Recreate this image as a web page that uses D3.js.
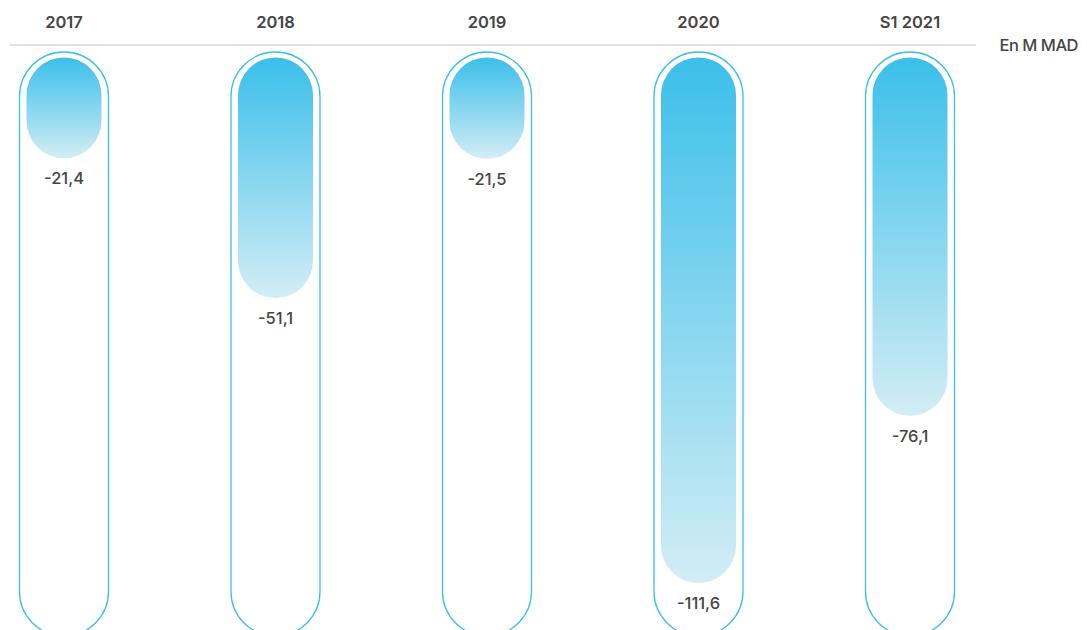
<!DOCTYPE html>
<html>
<head>
<meta charset="utf-8">
<script src="https://cdn.jsdelivr.net/npm/d3@7"></script>
<style>
  body { margin: 0; background: #fff; }
  svg { display: block; font-family: Inter, "Noto Sans", sans-serif; }
</style>
</head>
<body>
<svg id="chart" width="1087" height="630"></svg>
<script>
var categories = ["2017", "2018", "2019", "2020", "S1 2021"];
var values = [-21.4, -51.1, -21.5, -111.6, -76.1];
var labels = ["-21,4", "-51,1", "-21,5", "-111,6", "-76,1"];
var unitLabel = "En M MAD";

var svg = d3.select("#chart");

var x = d3.scalePoint().domain(categories).range([64, 910]);
var y = d3.scaleLinear().domain([0, 111.6]).range([57.5, 583]);

var outerW = 89, innerW = 75;

var defs = svg.append("defs");
var grad = defs.append("linearGradient")
  .attr("id", "barGrad")
  .attr("x1", 0).attr("y1", 0).attr("x2", 0).attr("y2", 1);
grad.append("stop").attr("offset", "0%").attr("stop-color", "#3bbfea");
grad.append("stop").attr("offset", "100%").attr("stop-color", "#d3edf5");

// header line
svg.append("line")
  .attr("x1", 10).attr("x2", 976)
  .attr("y1", 45).attr("y2", 45)
  .attr("stroke", "#d9d9d9")
  .attr("stroke-width", 1.5);

svg.append("text")
  .attr("x", 1078).attr("y", 45)
  .attr("dy", "0.35em")
  .attr("text-anchor", "end")
  .attr("fill", "#454545")
  .style("font-size", "16.5px")
  .style("font-weight", 500)
  .style("letter-spacing", "-0.5px")
  .text(unitLabel);

svg.selectAll(".cat")
  .data(categories)
  .enter().append("text")
  .attr("class", "cat")
  .attr("x", function(d) { return x(d); })
  .attr("y", 22)
  .attr("dy", "0.35em")
  .attr("text-anchor", "middle")
  .attr("fill", "#454545")
  .style("font-size", "16.5px")
  .style("font-weight", 600)
  .text(function(d) { return d; });

// outer capsules
svg.selectAll(".outer")
  .data(categories)
  .enter().append("rect")
  .attr("class", "outer")
  .attr("x", function(d) { return x(d) - outerW / 2; })
  .attr("y", 52)
  .attr("width", outerW)
  .attr("height", 584)
  .attr("rx", outerW / 2)
  .attr("fill", "#fff")
  .attr("stroke", "#3bbfea")
  .attr("stroke-width", 1.3);

// bars
svg.selectAll(".bar")
  .data(values)
  .enter().append("rect")
  .attr("class", "bar")
  .attr("x", function(d, i) { return x(categories[i]) - innerW / 2; })
  .attr("y", y(0))
  .attr("width", innerW)
  .attr("height", function(d) { return y(-d) - y(0); })
  .attr("rx", innerW / 2)
  .attr("fill", "url(#barGrad)");

svg.selectAll(".val")
  .data(values)
  .enter().append("text")
  .attr("class", "val")
  .attr("x", function(d, i) { return x(categories[i]); })
  .attr("y", function(d) { return y(-d) + 20; })
  .attr("dy", "0.35em")
  .attr("text-anchor", "middle")
  .attr("fill", "#454545")
  .style("font-size", "16.5px")
  .style("font-weight", 500)
  .text(function(d, i) { return labels[i]; });
</script>
</body>
</html>
